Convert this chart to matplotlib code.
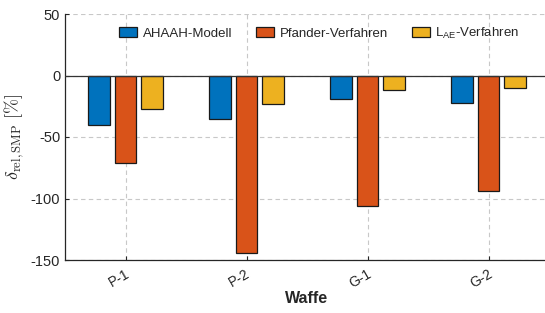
import matplotlib
matplotlib.use("Agg")
import matplotlib.pyplot as plt
import matplotlib.transforms as mtransforms
import numpy as np

categories = ["P-1", "P-2", "G-1", "G-2"]
ahaah = [-40, -35, -19.5, -22]
pfander = [-71, -144.5, -106, -94]
lae = [-27.5, -23, -11.5, -10.5]
series_names = ["AHAAH-Modell", "Pfander-Verfahren", r"L$_{\mathregular{AE}}$-Verfahren"]
colors = ["#0072BD", "#D95319", "#EDB120"]

plt.rcParams['font.family'] = ['Liberation Sans', 'DejaVu Sans']
plt.rcParams['axes.unicode_minus'] = False
fig = plt.figure(figsize=(5.45, 3.13), dpi=100)
ax = fig.add_axes([65/545, 53/313, 484/545, 246/313])

x = np.arange(1, len(categories) + 1)
w = 0.18
off = 0.22
for i, (vals, name, c) in enumerate(zip([ahaah, pfander, lae], series_names, colors)):
    ax.bar(x + (i - 1) * off, vals, width=w, color=c, edgecolor="#1a1a1a",
           linewidth=0.9, label=name, zorder=3)

ax.axhline(0, color="#333333", linewidth=0.9, zorder=4)
ax.set_xlim(0.5, 4.5)
ax.set_ylim(-150, 50)
ax.set_yticks([-150, -100, -50, 0, 50])
ax.set_xticks(x)
ax.tick_params(axis="both", direction="in", length=3, color="#262626", labelcolor="#262626", labelsize=10.5)
ax.tick_params(axis="x", pad=5)
ax.set_xticklabels(categories, rotation=30, fontsize=10, color="#262626", ha="right")
shift = mtransforms.ScaledTranslation(6/100, 0, fig.dpi_scale_trans)
for lab in ax.get_xticklabels():
    lab.set_transform(lab.get_transform() + shift)
ax.grid(True, linestyle=(0, (4, 3)), color="#c8c8c8", linewidth=0.8, zorder=0)
ax.spines["top"].set_visible(False)
ax.spines["right"].set_visible(False)
for s in ["left", "bottom"]:
    ax.spines[s].set_color("#262626")
    ax.spines[s].set_linewidth(0.9)

ax.set_xlabel("Waffe", fontsize=11.5, fontweight="bold", color="#262626", labelpad=0)
ax.set_ylabel(r"$\delta_{\rm rel,SMP}\ [\%]$", fontsize=13, color="#262626",
              math_fontfamily="cm", labelpad=3)

leg = ax.legend(loc="upper left", bbox_to_anchor=(0.087, 1.0), ncol=3, frameon=False,
                fontsize=9.5, handlelength=1.4, handleheight=0.8, columnspacing=1.8,
                handletextpad=0.4)
for t in leg.get_texts():
    t.set_color("#262626")

fig.savefig("out.png", dpi=100)
